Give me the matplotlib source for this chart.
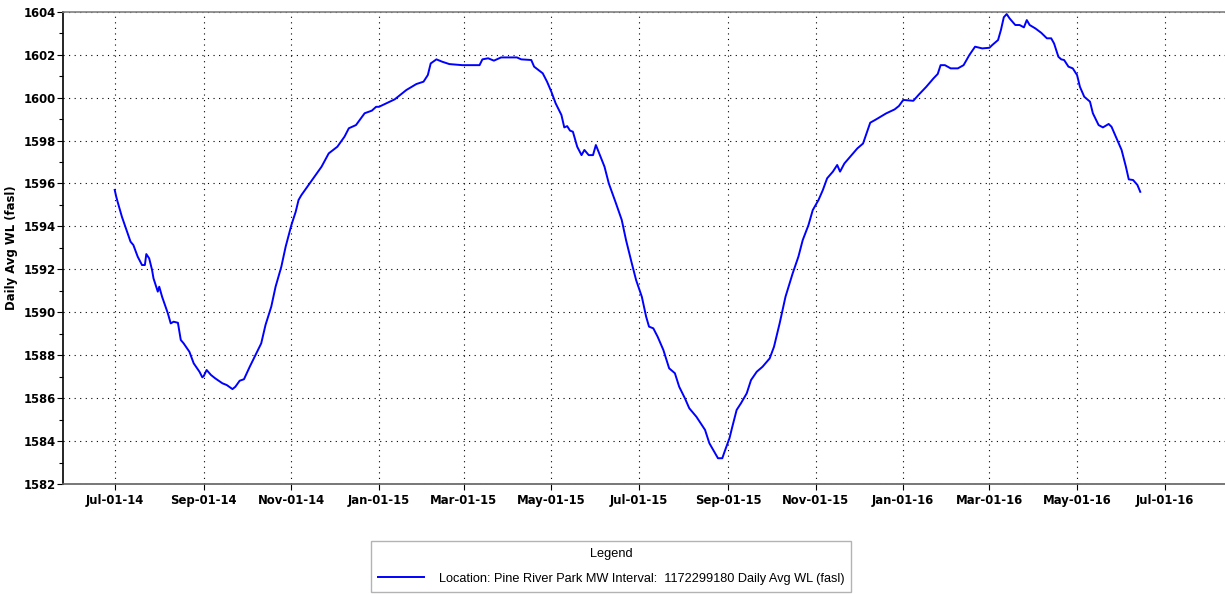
import matplotlib
matplotlib.use("Agg")
import matplotlib.pyplot as plt
import matplotlib.dates as mdates
from matplotlib.ticker import MultipleLocator
from matplotlib.font_manager import FontProperties
import pandas as pd

# Days since first reading (2014-07-01) and daily average water level (fasl)
start_date = "2014-07-01"
days = [0, 1, 2, 5, 11, 13, 16, 19, 21, 22, 24, 26, 27, 30, 31, 33, 37, 39, 41, 44,
        46, 48, 52, 55, 59, 61, 62, 64, 67, 70, 75, 78, 82, 84, 87, 90, 94, 98, 102, 105,
        109, 112, 116, 119, 123, 126, 128, 130, 135, 144, 149, 155, 160, 163, 168, 174, 179, 182, 184, 189,
        195, 203, 210, 215, 218, 220, 224, 228, 233, 242, 254, 256, 260, 264, 269, 280, 283, 290, 292, 298,
        301, 304, 307, 311, 313, 315, 317, 319, 322, 325, 327, 330, 333, 335, 341, 344, 349, 353, 356, 360,
        363, 367, 370, 372, 375, 378, 382, 386, 390, 393, 397, 400, 405, 411, 414, 418, 420, 423, 425, 428,
        430, 433, 436, 440, 443, 447, 451, 456, 459, 463, 467, 472, 476, 479, 483, 486, 490, 493, 496, 500,
        503, 505, 508, 513, 517, 521, 523, 526, 530, 537, 543, 546, 549, 556, 560, 565, 570, 573, 575, 578,
        582, 587, 591, 595, 599, 604, 609, 611, 615, 617, 619, 621, 623, 627, 630, 633, 635, 637, 641, 645,
        649, 652, 654, 657, 659, 661, 664, 667, 670, 672, 675, 679, 681, 685, 688, 692, 694, 697, 701, 704,
        706, 709, 712, 714]
levels = [1595.70, 1595.40, 1595.15, 1594.45, 1593.29, 1593.13, 1592.59, 1592.20, 1592.20, 1592.71,
          1592.51, 1591.97, 1591.58, 1590.96, 1591.19, 1590.72, 1589.95, 1589.48, 1589.56, 1589.51,
          1588.71, 1588.55, 1588.16, 1587.62, 1587.23, 1586.97, 1587.03, 1587.31, 1587.08, 1586.92,
          1586.69, 1586.61, 1586.42, 1586.53, 1586.81, 1586.88, 1587.46, 1588.01, 1588.55, 1589.41,
          1590.26, 1591.19, 1592.12, 1593.05, 1594.06, 1594.68, 1595.23, 1595.46, 1595.93, 1596.78,
          1597.40, 1597.71, 1598.18, 1598.57, 1598.72, 1599.27, 1599.39, 1599.57, 1599.57, 1599.73,
          1599.92, 1600.35, 1600.63, 1600.74, 1601.05, 1601.59, 1601.78, 1601.67, 1601.56, 1601.51,
          1601.51, 1601.78, 1601.83, 1601.72, 1601.87, 1601.87, 1601.78, 1601.75, 1601.44, 1601.13,
          1600.74, 1600.27, 1599.73, 1599.19, 1598.61, 1598.67, 1598.46, 1598.41, 1597.71, 1597.32,
          1597.56, 1597.32, 1597.32, 1597.79, 1596.78, 1596.00, 1595.07, 1594.30, 1593.36, 1592.28,
          1591.50, 1590.72, 1589.79, 1589.33, 1589.25, 1588.86, 1588.24, 1587.39, 1587.16, 1586.53,
          1585.99, 1585.53, 1585.13, 1584.52, 1583.90, 1583.43, 1583.20, 1583.20, 1583.58, 1584.13,
          1584.67, 1585.45, 1585.76, 1586.22, 1586.84, 1587.23, 1587.46, 1587.85, 1588.39, 1589.50,
          1590.72, 1591.81, 1592.59, 1593.36, 1594.06, 1594.76, 1595.23, 1595.69, 1596.24, 1596.55,
          1596.86, 1596.55, 1596.93, 1597.32, 1597.63, 1597.86, 1598.25, 1598.83, 1598.98, 1599.26,
          1599.45, 1599.61, 1599.89, 1599.85, 1600.15, 1600.50, 1600.89, 1601.10, 1601.51, 1601.51,
          1601.36, 1601.36, 1601.51, 1601.98, 1602.37, 1602.29, 1602.32, 1602.45, 1602.68, 1603.15,
          1603.74, 1603.89, 1603.69, 1603.38, 1603.38, 1603.27, 1603.61, 1603.38, 1603.22, 1603.02,
          1602.76, 1602.76, 1602.52, 1601.90, 1601.78, 1601.75, 1601.44, 1601.36, 1601.05, 1600.50,
          1600.04, 1599.81, 1599.27, 1598.72, 1598.61, 1598.77, 1598.64, 1598.18, 1597.56, 1596.78,
          1596.19, 1596.16, 1595.93, 1595.61]

series_label = "Location: Pine River Park MW Interval:  1172299180 Daily Avg WL (fasl)"
y_label = "Daily Avg WL (fasl)"
x_range = ("2014-05-26", "2016-08-12")
y_range = (1582, 1604)

dates = pd.Timestamp(start_date) + pd.to_timedelta(days, unit="D")

W, H = 1225, 594
fig = plt.figure(figsize=(W / 100, H / 100), dpi=100)
ax = fig.add_axes([63 / W, 1 - 484 / H, 1 - 63 / W, (484 - 11.7) / H])

line, = ax.plot(dates, levels, color="#0000FF", lw=1.4, label=series_label)

ax.set_xlim(pd.Timestamp(x_range[0]), pd.Timestamp(x_range[1]))
ax.set_ylim(*y_range)

ax.xaxis.set_major_locator(mdates.MonthLocator(bymonth=[1, 3, 5, 7, 9, 11]))
ax.xaxis.set_major_formatter(mdates.DateFormatter("%b-%d-%y"))
ax.yaxis.set_major_locator(MultipleLocator(2))
ax.yaxis.set_minor_locator(MultipleLocator(1))

tick_fp = FontProperties(family="DejaVu Sans", weight="bold", size=8.4)
for lab in ax.get_xticklabels() + ax.get_yticklabels():
    lab.set_fontproperties(tick_fp)

ax.tick_params(axis="x", which="major", direction="out", length=4, width=0.8,
               pad=3, colors="black")
ax.tick_params(axis="y", which="major", direction="out", length=4, width=0.8,
               pad=1, colors="black")
ax.tick_params(axis="y", which="minor", direction="out", length=3, width=0.8)

ax.grid(True, which="major", color="black", linestyle=(0, (1, 4)), lw=0.8)

ax.spines["right"].set_visible(False)
ax.spines["left"].set_color("black")
ax.spines["bottom"].set_color("#606060")
ax.spines["top"].set_color("#808080")
for s in ax.spines.values():
    s.set_linewidth(1.2)

ax.set_ylabel(y_label, fontdict=dict(family="DejaVu Sans", weight="bold", size=8.4),
              labelpad=4)

leg = fig.legend(handles=[line], labels=[series_label], title="Legend",
                 loc="upper left", bbox_to_anchor=(371 / W, 1 - 541 / H),
                 prop=dict(family="Liberation Sans", size=9.2),
                 title_fontproperties=dict(family="Liberation Sans", size=9.2),
                 frameon=True, fancybox=False, edgecolor="#a0a0a0",
                 handlelength=3.6, handletextpad=1.15, borderpad=0.55,
                 labelspacing=1.0, borderaxespad=0)
leg.get_frame().set_linewidth(1.0)

fig.savefig("out.png", dpi=100)
